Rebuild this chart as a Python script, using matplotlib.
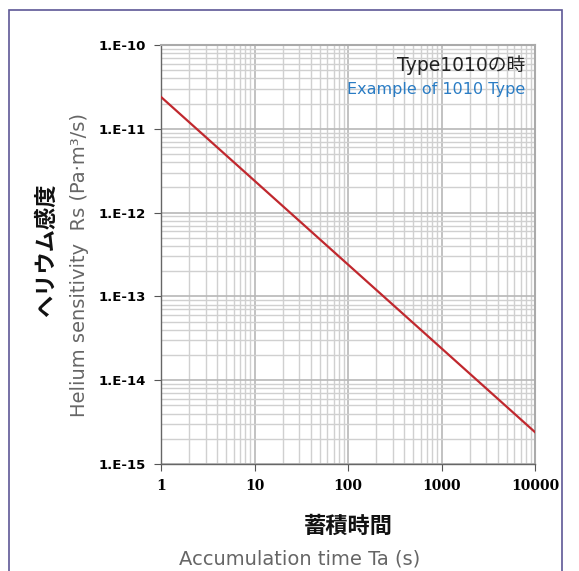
import matplotlib
matplotlib.use('Agg')
import matplotlib.pyplot as plt
from matplotlib.patches import Rectangle
from matplotlib.ticker import LogLocator, FixedLocator, NullFormatter

plt.rcParams['font.family'] = ['Noto Sans CJK JP', 'DejaVu Sans']

# data: Rs = 2.4e-11 / Ta
ta = [1, 10, 100, 1000, 10000]
rs = [2.4e-11, 2.4e-12, 2.4e-13, 2.4e-14, 2.4e-15]

x_ticks = [1, 10, 100, 1000, 10000]
x_labels = ['1', '10', '100', '1000', '10000']
y_ticks = [1e-15, 1e-14, 1e-13, 1e-12, 1e-11, 1e-10]
y_labels = ['1.E-15', '1.E-14', '1.E-13', '1.E-12', '1.E-11', '1.E-10']

fig = plt.figure(figsize=(5.79, 5.71), dpi=100)
ax = fig.add_axes([161/579, 1 - 464/571, (535 - 161)/579, (464 - 45)/571])

ax.plot(ta, rs, color='#c0282e', linewidth=1.6, zorder=3)

ax.set_xscale('log')
ax.set_yscale('log')
ax.set_xlim(1, 10000)
ax.set_ylim(1e-15, 1e-10)

ax.xaxis.set_major_locator(FixedLocator(x_ticks))
ax.yaxis.set_major_locator(FixedLocator(y_ticks))
ax.set_xticklabels(x_labels, fontsize=10, fontweight='bold', family='DejaVu Serif')
ax.set_yticklabels(y_labels, fontsize=9.5, fontweight='bold', family='DejaVu Sans')
ax.xaxis.set_minor_locator(LogLocator(base=10, subs=range(2, 10)))
ax.yaxis.set_minor_locator(LogLocator(base=10, subs=range(2, 10)))
ax.xaxis.set_minor_formatter(NullFormatter())
ax.yaxis.set_minor_formatter(NullFormatter())

ax.grid(True, which='major', color='#b8b8b8', linewidth=1.2)
ax.grid(True, which='minor', color='#d0d0d0', linewidth=1.0)
ax.tick_params(which='major', direction='out', length=5, color='#555555', pad=6)
ax.tick_params(which='minor', length=0)
for side in ['left', 'bottom']:
    ax.spines[side].set_color('#666666')
    ax.spines[side].set_linewidth(1.0)
for side in ['top', 'right']:
    ax.spines[side].set_color('#aaaaaa')
    ax.spines[side].set_linewidth(1.5)

ax.text(0.975, 0.975, 'Type1010の時', transform=ax.transAxes, ha='right', va='top',
        fontsize=13.5, color='#222222', family=['DejaVu Sans', 'Noto Sans CJK JP'])
ax.text(0.975, 0.912, 'Example of 1010 Type', transform=ax.transAxes, ha='right', va='top',
        fontsize=11.5, color='#2a7cc4', family='DejaVu Sans')

# axis titles (Japanese + English)
fig.text(46/579, 1 - 250/571, 'ヘリウム感度', rotation=90, ha='center', va='center',
         fontsize=16, fontweight='bold', color='#111111')
fig.text(80/579, 1 - 265/571, 'Helium sensitivity  Rs (Pa·m³/s)', rotation=90,
         ha='center', va='center', fontsize=14, color='#666666', family='DejaVu Sans')
fig.text(348/579, 1 - 526/571, '蓄積時間', ha='center', va='center',
         fontsize=16, fontweight='bold', color='#111111')
fig.text(300/579, 1 - 559/571, 'Accumulation time Ta (s)', ha='center', va='center',
         fontsize=14, color='#666666', family='DejaVu Sans')

# outer frame
fig.patches.append(Rectangle((9/579, -0.1), (562 - 9)/579, 1.1 - 10/571,
                             transform=fig.transFigure, fill=False,
                             edgecolor='#5e5896', linewidth=1.2))

fig.savefig('out.png', dpi=100)
